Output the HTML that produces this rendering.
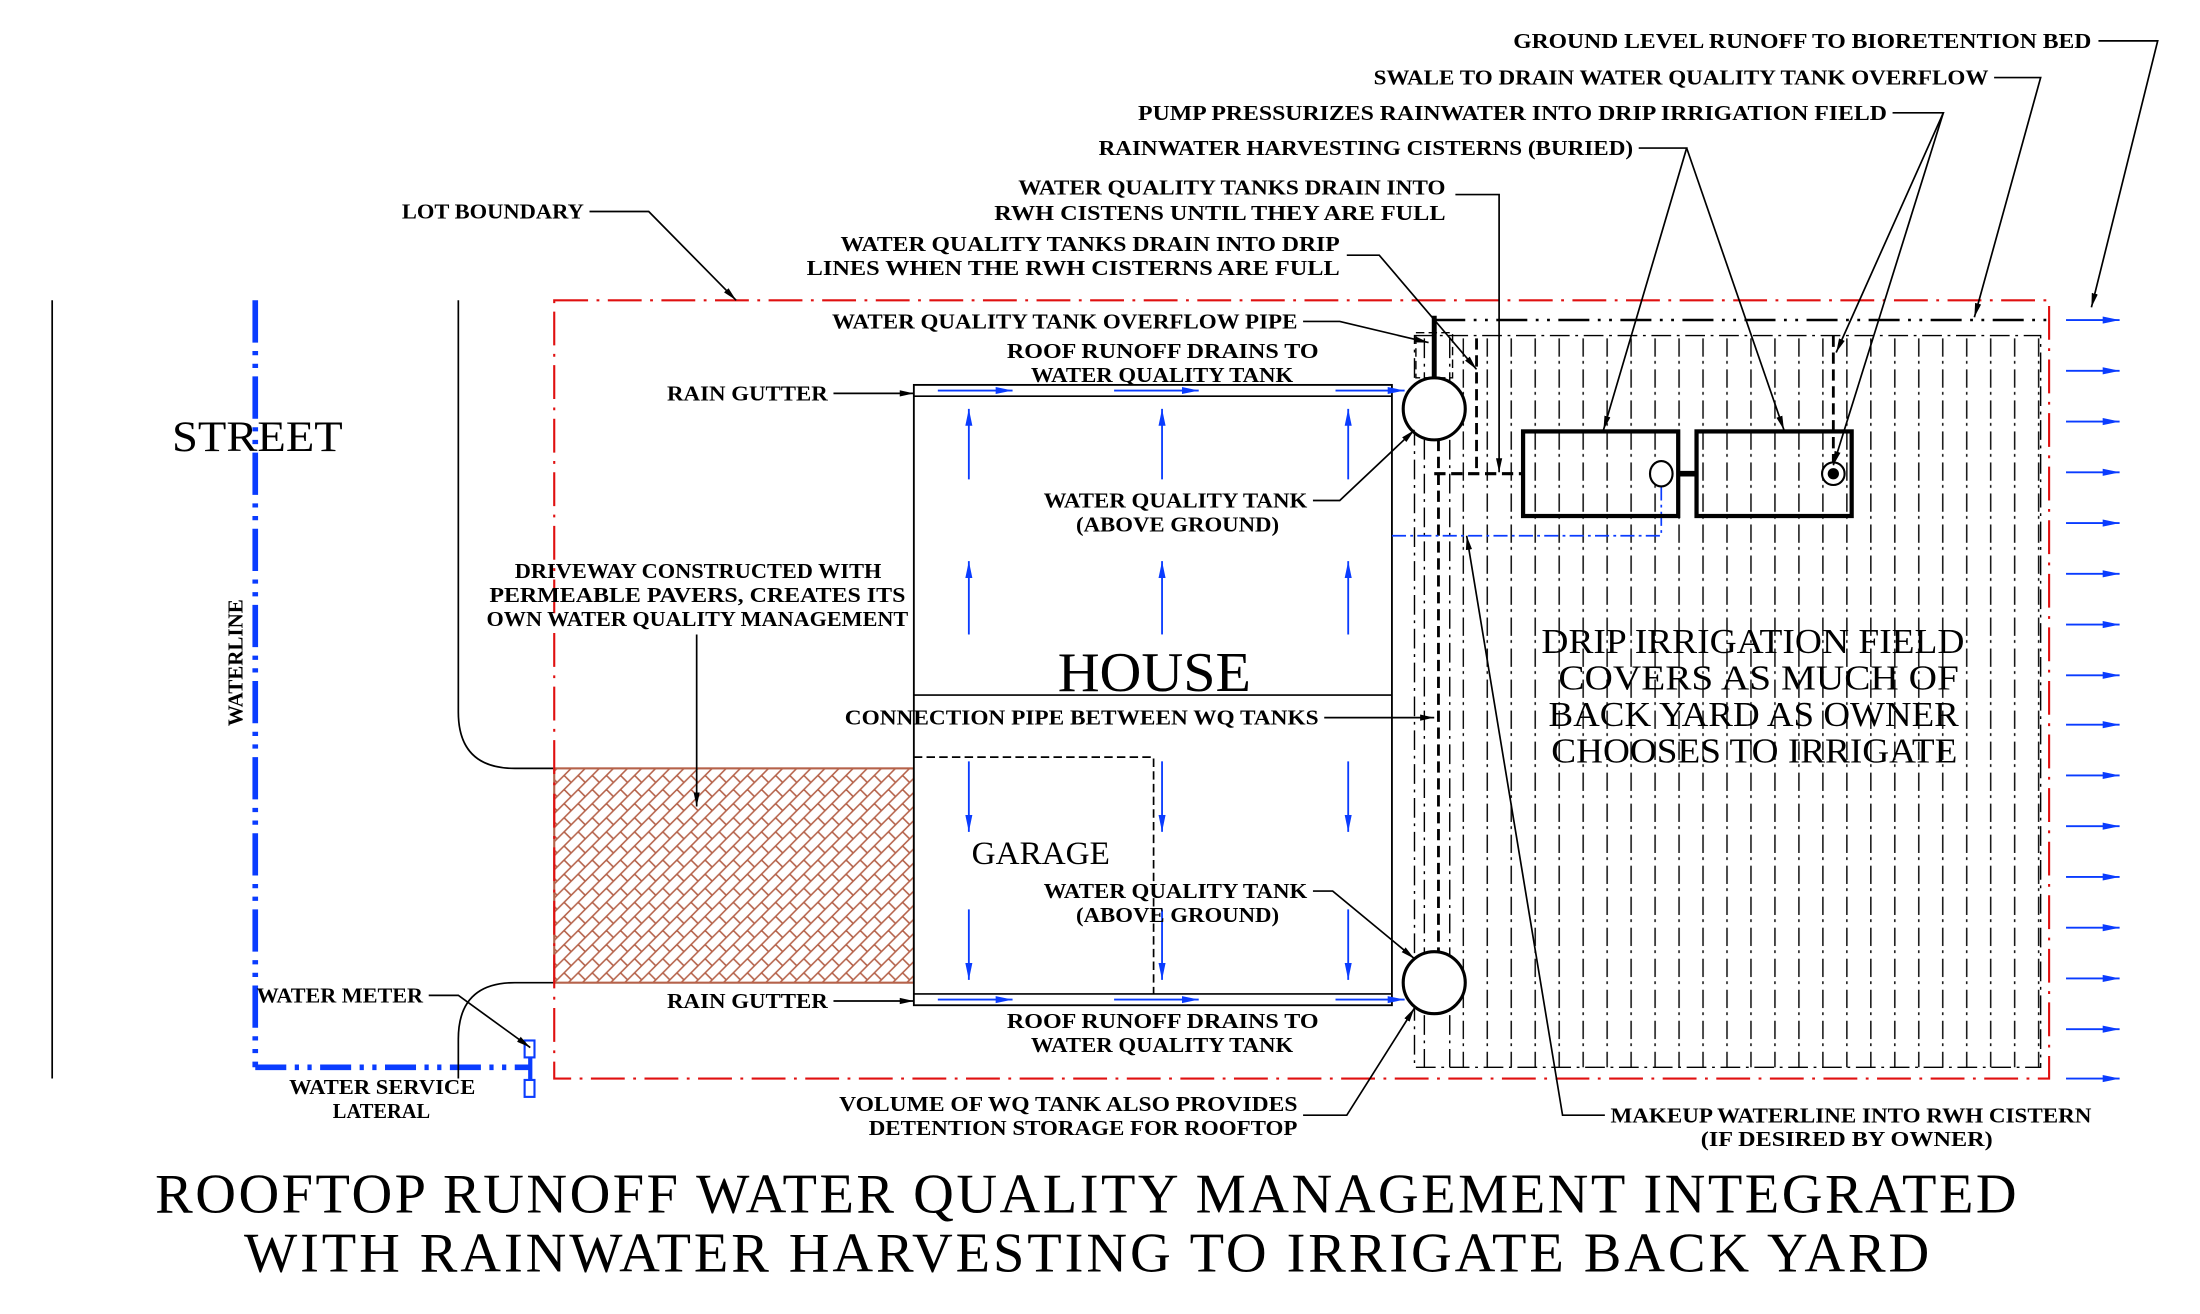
<!DOCTYPE html>
<html><head><meta charset="utf-8"><style>
html,body{margin:0;padding:0;background:#fff;}
svg{display:block;}
text{font-family:"Liberation Serif",serif;fill:#000;}
.s{font-size:15px;font-weight:bold;}
</style></head><body>
<svg width="2200" height="1314" viewBox="0 0 1560 932" preserveAspectRatio="none" xmlns="http://www.w3.org/2000/svg">
<defs>
<marker id="ab" markerWidth="10" markerHeight="6" refX="10" refY="3" orient="auto" markerUnits="userSpaceOnUse"><path d="M0,0.8 L10,3 L0,5.2z" fill="#000"/></marker>
<marker id="au" markerWidth="12" markerHeight="6" refX="12" refY="3" orient="auto" markerUnits="userSpaceOnUse"><path d="M0,0.5 L12,3 L0,5.5z" fill="#0a3cff"/></marker>
<pattern id="hatch" patternUnits="userSpaceOnUse" width="10" height="10">
<path d="M-2,12 L12,-2 M-2,2 L2,-2 M8,12 L12,8" stroke="#b5624a" stroke-width="1.1"/>
<path d="M0,0 L5,5" stroke="#b5624a" stroke-width="1.1"/>
</pattern>
<pattern id="drip" patternUnits="userSpaceOnUse" x="1037" y="238" width="17" height="22">
<line x1="0.6" y1="2" x2="0.6" y2="15" stroke="#000" stroke-width="1"/>
<line x1="0.6" y1="18" x2="0.6" y2="20" stroke="#000" stroke-width="1"/>
</pattern>
</defs>

<!-- street line -->
<line x1="37" y1="213" x2="37" y2="765" stroke="#000" stroke-width="1.2"/>
<text x="122" y="320" font-size="31" textLength="121" lengthAdjust="spacingAndGlyphs">STREET</text>
<!-- waterline -->
<line x1="181" y1="213" x2="181" y2="757" stroke="#0a3cff" stroke-width="4" stroke-dasharray="30 6 3 6 3 6"/>
<line x1="181" y1="757" x2="375" y2="757" stroke="#0a3cff" stroke-width="4" stroke-dasharray="22 6 3 6 3 6"/>
<text class="s" transform="translate(172,515) rotate(-90)" font-size="14" textLength="90" lengthAdjust="spacingAndGlyphs">WATERLINE</text>
<rect x="372" y="738" width="7" height="12" fill="none" stroke="#0a3cff" stroke-width="1.5"/>
<rect x="372" y="766" width="7" height="12" fill="none" stroke="#0a3cff" stroke-width="1.5"/>
<line x1="376" y1="750" x2="376" y2="766" stroke="#0a3cff" stroke-width="3"/>
<!-- curb curves -->
<path d="M325,213 L325,505 Q325,545 365,545 L393,545" fill="none" stroke="#000" stroke-width="1.2"/>
<path d="M325,765 L325,737 Q325,697 365,697 L393,697" fill="none" stroke="#000" stroke-width="1.2"/>
<!-- driveway -->
<rect x="393" y="545" width="255" height="152" fill="url(#hatch)" stroke="#b5624a" stroke-width="1.5"/>
<!-- lot boundary -->
<rect x="393" y="213" width="1060" height="552" fill="none" stroke="#e01010" stroke-width="1.5" stroke-dasharray="24 6 2 6"/>
<!-- drip field -->
<rect x="1037" y="238" width="412" height="519" fill="url(#drip)"/>
<rect x="1003" y="238" width="444" height="519" fill="none" stroke="#000" stroke-width="1" stroke-dasharray="14 4 2 4"/>
<line x1="1010" y1="240" x2="1010" y2="757" stroke="#000" stroke-width="1" stroke-dasharray="14 4 2 4"/>
<line x1="1028" y1="240" x2="1028" y2="757" stroke="#000" stroke-width="1" stroke-dasharray="14 4 2 4"/>
<!-- swale -->
<line x1="1017" y1="227" x2="1453" y2="227" stroke="#000" stroke-width="1.8" stroke-dasharray="22 6 2 6 2 6"/>
<!-- house -->
<rect x="648" y="273" width="339" height="440" fill="#fff" stroke="#000" stroke-width="1.3"/>
<line x1="648" y1="281" x2="987" y2="281" stroke="#000" stroke-width="1.2"/>
<line x1="648" y1="705" x2="987" y2="705" stroke="#000" stroke-width="1.2"/>
<line x1="648" y1="493" x2="987" y2="493" stroke="#000" stroke-width="1.2"/>
<path d="M648,537 L818,537 L818,705" fill="none" stroke="#000" stroke-width="1.2" stroke-dasharray="6 3"/>
<!-- roof arrows -->
<g stroke="#0a3cff" stroke-width="1.3" marker-end="url(#au)">
<line x1="687" y1="340" x2="687" y2="290"/><line x1="824" y1="340" x2="824" y2="290"/><line x1="956" y1="340" x2="956" y2="290"/>
<line x1="687" y1="450" x2="687" y2="398"/><line x1="824" y1="450" x2="824" y2="398"/><line x1="956" y1="450" x2="956" y2="398"/>
<line x1="687" y1="540" x2="687" y2="590"/><line x1="824" y1="540" x2="824" y2="590"/><line x1="956" y1="540" x2="956" y2="590"/>
<line x1="687" y1="645" x2="687" y2="695"/><line x1="824" y1="645" x2="824" y2="695"/><line x1="956" y1="645" x2="956" y2="695"/>
<line x1="665" y1="277" x2="718" y2="277"/><line x1="790" y1="277" x2="850" y2="277"/><line x1="947" y1="277" x2="996" y2="277"/>
<line x1="665" y1="709" x2="718" y2="709"/><line x1="790" y1="709" x2="850" y2="709"/><line x1="947" y1="709" x2="996" y2="709"/>
</g>
<!-- right blue arrows -->
<g stroke="#0a3cff" stroke-width="1.3" marker-end="url(#au)">
<line x1="1465" y1="227" x2="1503" y2="227"/><line x1="1465" y1="263" x2="1503" y2="263"/><line x1="1465" y1="299" x2="1503" y2="299"/><line x1="1465" y1="335" x2="1503" y2="335"/>
<line x1="1465" y1="371" x2="1503" y2="371"/><line x1="1465" y1="407" x2="1503" y2="407"/><line x1="1465" y1="443" x2="1503" y2="443"/><line x1="1465" y1="479" x2="1503" y2="479"/>
<line x1="1465" y1="514" x2="1503" y2="514"/><line x1="1465" y1="550" x2="1503" y2="550"/><line x1="1465" y1="586" x2="1503" y2="586"/><line x1="1465" y1="622" x2="1503" y2="622"/>
<line x1="1465" y1="658" x2="1503" y2="658"/><line x1="1465" y1="694" x2="1503" y2="694"/><line x1="1465" y1="730" x2="1503" y2="730"/><line x1="1465" y1="765" x2="1503" y2="765"/>
</g>
<!-- pipes -->
<line x1="1017" y1="224" x2="1017" y2="268" stroke="#000" stroke-width="3.5"/>
<rect x="1004" y="236" width="26" height="32" fill="none" stroke="#000" stroke-width="1" stroke-dasharray="6 3"/>
<line x1="1020" y1="312" x2="1020" y2="675" stroke="#000" stroke-width="2" stroke-dasharray="8 4"/>
<line x1="1047" y1="240" x2="1047" y2="336" stroke="#000" stroke-width="2" stroke-dasharray="8 4"/>
<line x1="1017" y1="336" x2="1080" y2="336" stroke="#000" stroke-width="2.2" stroke-dasharray="8 4"/>
<line x1="1300" y1="238" x2="1300" y2="330" stroke="#000" stroke-width="2" stroke-dasharray="8 4"/>
<path d="M987,380 L1178,380 L1178,345" fill="none" stroke="#0a3cff" stroke-width="1.2" stroke-dasharray="10 3 2 3"/>
<!-- tanks -->
<circle cx="1017" cy="290" r="22" fill="#fff" stroke="#000" stroke-width="2.2"/>
<circle cx="1017" cy="697" r="22" fill="#fff" stroke="#000" stroke-width="2.2"/>
<!-- cisterns -->
<rect x="1080" y="306" width="110" height="60" fill="none" stroke="#000" stroke-width="3"/>
<rect x="1203" y="306" width="110" height="60" fill="none" stroke="#000" stroke-width="3"/>
<line x1="1190" y1="336" x2="1203" y2="336" stroke="#000" stroke-width="4"/>
<ellipse cx="1178" cy="336" rx="8" ry="9" fill="#fff" stroke="#000" stroke-width="1.5"/>
<circle cx="1300" cy="336" r="8" fill="#fff" stroke="#000" stroke-width="1.5"/>
<circle cx="1300" cy="336" r="4" fill="#000"/>

<!-- leaders -->
<g fill="none" stroke="#000" stroke-width="1.2" marker-end="url(#ab)">
<polyline points="1488,29 1530,29 1483,218"/>
<polyline points="1414,55 1447,55 1400,225"/>
<polyline points="1342,80 1378,80 1302,250"/>
<polyline points="1378,80 1300,330"/>
<polyline points="1162,105 1196,105 1137,305"/>
<polyline points="1196,105 1265,305"/>
<polyline points="1032,138 1063,138 1063,335"/>
<polyline points="955,181 978,181 1047,262"/>
<polyline points="924,228 950,228 1013,243"/>
<polyline points="418,150 460,150 522,213"/>
<polyline points="591,279 648,279"/>
<polyline points="931,355 950,355 1003,305"/>
<polyline points="494,450 494,572"/>
<polyline points="939,509 1017,509"/>
<polyline points="931,632 945,632 1003,680"/>
<polyline points="591,710 648,710"/>
<polyline points="924,791 955,791 1003,715"/>
<polyline points="1138,791 1108,791 1040,380"/>
<polyline points="304,706 325,706 376,743"/>
</g>

<!-- labels -->
<g class="s">
<text x="1073" y="34" textLength="410" lengthAdjust="spacingAndGlyphs">GROUND LEVEL RUNOFF TO BIORETENTION BED</text>
<text x="974" y="60" textLength="436" lengthAdjust="spacingAndGlyphs">SWALE TO DRAIN WATER QUALITY TANK OVERFLOW</text>
<text x="807" y="85" textLength="531" lengthAdjust="spacingAndGlyphs">PUMP PRESSURIZES RAINWATER INTO DRIP IRRIGATION FIELD</text>
<text x="779" y="110" textLength="379" lengthAdjust="spacingAndGlyphs">RAINWATER HARVESTING CISTERNS (BURIED)</text>
<text x="722" y="138" textLength="303" lengthAdjust="spacingAndGlyphs">WATER QUALITY TANKS DRAIN INTO</text>
<text x="705" y="156" textLength="320" lengthAdjust="spacingAndGlyphs">RWH CISTENS UNTIL THEY ARE FULL</text>
<text x="596" y="178" textLength="354" lengthAdjust="spacingAndGlyphs">WATER QUALITY TANKS DRAIN INTO DRIP</text>
<text x="572" y="195" textLength="378" lengthAdjust="spacingAndGlyphs">LINES WHEN THE RWH CISTERNS ARE FULL</text>
<text x="590" y="233" textLength="330" lengthAdjust="spacingAndGlyphs">WATER QUALITY TANK OVERFLOW PIPE</text>
<text x="714" y="254" textLength="221" lengthAdjust="spacingAndGlyphs">ROOF RUNOFF DRAINS TO</text>
<text x="731" y="271" textLength="186" lengthAdjust="spacingAndGlyphs">WATER QUALITY TANK</text>
<text x="285" y="155" textLength="129" lengthAdjust="spacingAndGlyphs">LOT BOUNDARY</text>
<text x="473" y="284" textLength="114" lengthAdjust="spacingAndGlyphs">RAIN GUTTER</text>
<text x="740" y="360" textLength="187" lengthAdjust="spacingAndGlyphs">WATER QUALITY TANK</text>
<text x="763" y="377" textLength="144" lengthAdjust="spacingAndGlyphs">(ABOVE GROUND)</text>
<text x="365" y="410" textLength="260" lengthAdjust="spacingAndGlyphs">DRIVEWAY CONSTRUCTED WITH</text>
<text x="347" y="427" textLength="295" lengthAdjust="spacingAndGlyphs">PERMEABLE PAVERS, CREATES ITS</text>
<text x="345" y="444" textLength="299" lengthAdjust="spacingAndGlyphs">OWN WATER QUALITY MANAGEMENT</text>
<text x="599" y="514" textLength="336" lengthAdjust="spacingAndGlyphs">CONNECTION PIPE BETWEEN WQ TANKS</text>
<text x="740" y="637" textLength="187" lengthAdjust="spacingAndGlyphs">WATER QUALITY TANK</text>
<text x="763" y="654" textLength="144" lengthAdjust="spacingAndGlyphs">(ABOVE GROUND)</text>
<text x="473" y="715" textLength="114" lengthAdjust="spacingAndGlyphs">RAIN GUTTER</text>
<text x="714" y="729" textLength="221" lengthAdjust="spacingAndGlyphs">ROOF RUNOFF DRAINS TO</text>
<text x="731" y="746" textLength="186" lengthAdjust="spacingAndGlyphs">WATER QUALITY TANK</text>
<text x="595" y="788" textLength="325" lengthAdjust="spacingAndGlyphs">VOLUME OF WQ TANK ALSO PROVIDES</text>
<text x="616" y="805" textLength="304" lengthAdjust="spacingAndGlyphs">DETENTION STORAGE FOR ROOFTOP</text>
<text x="1142" y="796" textLength="341" lengthAdjust="spacingAndGlyphs">MAKEUP WATERLINE INTO RWH CISTERN</text>
<text x="1206" y="813" textLength="207" lengthAdjust="spacingAndGlyphs">(IF DESIRED BY OWNER)</text>
<text x="182" y="711" textLength="118" lengthAdjust="spacingAndGlyphs">WATER METER</text>
<text x="205" y="776" textLength="132" lengthAdjust="spacingAndGlyphs">WATER SERVICE</text>
<text x="236" y="793" textLength="69" lengthAdjust="spacingAndGlyphs">LATERAL</text>
</g>
<text x="750" y="490" font-size="40" textLength="137" lengthAdjust="spacingAndGlyphs">HOUSE</text>
<text x="689" y="613" font-size="23" textLength="98" lengthAdjust="spacingAndGlyphs">GARAGE</text>
<g font-size="25">
<text x="1093" y="463" textLength="300" lengthAdjust="spacingAndGlyphs">DRIP IRRIGATION FIELD</text>
<text x="1105" y="489" textLength="284" lengthAdjust="spacingAndGlyphs">COVERS AS MUCH OF</text>
<text x="1098" y="515" textLength="291" lengthAdjust="spacingAndGlyphs">BACK YARD AS OWNER</text>
<text x="1100" y="541" textLength="288" lengthAdjust="spacingAndGlyphs">CHOOSES TO IRRIGATE</text>
</g>
<g font-size="40">
<text x="110" y="860" textLength="1320" lengthAdjust="spacing">ROOFTOP RUNOFF WATER QUALITY MANAGEMENT INTEGRATED</text>
<text x="173" y="902" textLength="1195" lengthAdjust="spacing">WITH RAINWATER HARVESTING TO IRRIGATE BACK YARD</text>
</g>
</svg>
</body></html>
